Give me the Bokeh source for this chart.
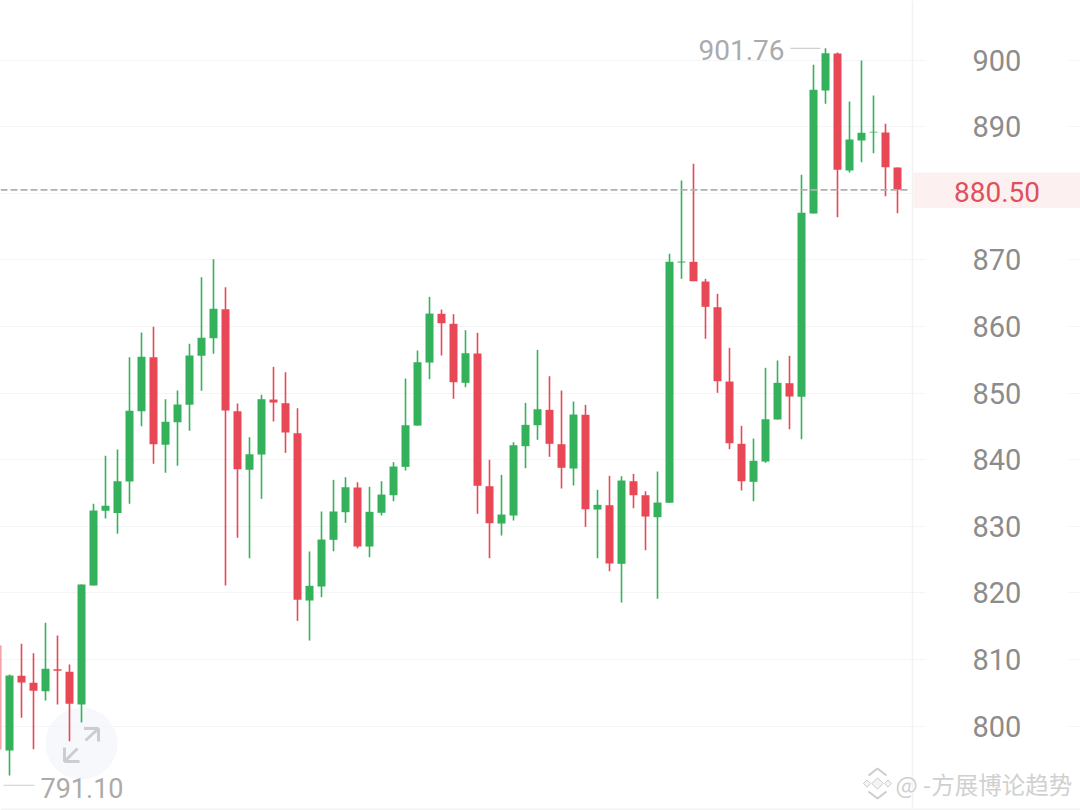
from bokeh.plotting import figure
from bokeh.models import (ColumnDataSource, Range1d, LinearAxis, FixedTicker, Grid,
                          BoxAnnotation, Label)
from bokeh.embed import file_html
from bokeh.resources import INLINE
from bokeh.core.properties import value
import math

# ---------- data (price values) ----------
opens = [812.08,796.32,807.53,806.48,805.22,808.52,808.13,803.23,821.09,832.31,832.0,836.71,847.26,855.37,842.22,845.61,848.22,855.58,858.22,862.58,847.26,838.46,840.76,849.02,848.47,843.96,818.84,820.94,827.95,832.1,835.81,826.95,832.01,834.65,838.91,845.11,854.57,861.89,860.39,851.53,855.93,836.0,830.4,831.6,842.01,845.16,847.47,842.31,838.66,846.72,832.5,833.15,824.35,836.75,834.65,831.35,833.51,869.59,869.7,866.74,862.88,851.72,842.37,836.66,839.71,846.02,851.47,849.43,876.95,895.42,900.97,883.4,887.91,889.11,889.11,883.86]
closes = [812.08,807.58,806.53,805.28,808.58,808.28,803.33,821.24,832.35,833.06,836.75,847.32,855.43,842.31,845.67,848.27,855.63,858.28,862.64,847.37,838.55,840.81,849.07,848.57,844.07,818.95,821.05,828.0,832.21,835.85,826.95,832.16,834.75,838.96,845.16,854.62,861.93,860.48,851.62,855.97,836.06,830.45,831.75,842.16,845.22,847.56,842.37,838.77,846.77,832.55,833.21,824.4,836.86,834.65,831.45,833.55,869.7,869.74,866.78,862.94,851.77,842.46,836.75,839.82,846.06,851.53,849.47,877.05,895.52,901.02,883.51,888.06,889.07,889.22,883.9,880.5]
highs = [812.08,807.73,812.34,810.93,815.49,813.58,809.23,821.24,833.36,840.57,841.51,855.37,859.08,859.94,849.07,850.37,857.38,867.38,870.09,865.88,848.42,843.36,849.73,853.93,853.12,847.71,826.2,832.21,836.96,837.35,836.6,835.91,836.75,839.61,852.17,856.38,864.44,862.53,861.83,859.43,859.04,839.97,837.71,842.61,848.52,856.48,852.52,850.37,848.72,848.22,835.46,837.56,837.5,837.86,835.25,838.21,870.9,881.9,884.41,867.14,864.89,856.78,845.07,843.16,853.78,854.88,855.58,882.76,899.28,901.76,901.12,893.77,899.92,894.67,890.42,883.86]
lows = [796.47,792.56,801.23,796.51,803.82,803.23,797.71,800.52,821.09,831.15,828.85,833.36,845.01,839.37,838.01,839.07,844.32,850.33,855.88,821.09,828.25,825.19,834.11,845.72,841.02,815.79,812.83,819.34,826.24,830.51,826.69,825.34,831.6,833.75,838.36,845.11,852.07,855.63,849.13,850.87,831.86,825.19,828.6,830.85,838.71,842.97,840.42,835.66,836.11,829.9,825.19,823.24,818.54,832.7,826.39,819.1,833.51,867.14,866.78,858.14,850.03,841.56,835.36,833.75,839.52,846.02,844.56,843.06,876.95,893.42,876.39,883.1,884.65,886.0,879.55,877.0]
ticks = [800, 810, 820, 830, 840, 850, 860, 870, 880, 890, 900]
last_price = 880.50
max_price = 901.76
min_price = 791.10
# slot of each candle; the first one is cut by the left edge
slots = [-0.75] + list(range(len(opens) - 1))

UP, DOWN = "#34b25b", "#e84855"
GRID, TXT = "#f3f5f7", "#8c8c8c"

# pixel <-> data helpers for layout pieces only (page is 1080x810)
XS, YS = 12.0, 6.66
x0, x1 = -9 / XS, (1080 - 9) / XS
ytop = 900 + 59.5 / YS
ybot = ytop - 810 / YS
X = lambda px: (px - 9) / XS
Y = lambda py: ytop - py / YS

p = figure(width=1080, height=810, output_backend="svg", toolbar_location=None,
           x_range=Range1d(x0, x1), y_range=Range1d(ybot, ytop),
           x_axis_location=None, y_axis_location=None,
           min_border=0, outline_line_color=None, background_fill_color="white")
p.xgrid.visible = False
p.ygrid.visible = False

p.add_layout(Grid(dimension=1, ticker=FixedTicker(ticks=ticks),
                  grid_line_color=GRID, grid_line_width=1.2))
# blank lane behind the price labels: only short stubs of the grid stay visible
p.add_layout(BoxAnnotation(left=X(925), right=X(1068), fill_color="white", fill_alpha=1,
                           line_color=None, level="underlay"))

axis = LinearAxis(ticker=FixedTicker(ticks=ticks), fixed_location=X(912),
                  axis_line_color="#f2f2f2", axis_line_width=1.5,
                  major_tick_line_color=None, minor_tick_line_color=None,
                  major_tick_in=0, major_tick_out=0, major_label_standoff=60,
                  major_label_text_font="Roboto", major_label_text_font_size="29px",
                  major_label_text_color=TXT)
p.add_layout(axis, "right")

# expand button behind the candles
p.scatter([X(81)], [Y(743)], size=72, marker="circle", fill_color="#f7f8fc",
          line_color=None, level="underlay")
p.multi_line([[X(85), X(98), X(98)], [X(83.5), X(98)], [X(77), X(64), X(64)], [X(79), X(64)]],
             [[Y(740), Y(728), Y(741)], [Y(728), Y(728)], [Y(748), Y(761), Y(747)], [Y(761), Y(761)]],
             line_color="#cbcdd0", line_width=3)

src = ColumnDataSource(dict(
    x=slots, open=opens, close=closes, high=highs, low=lows,
    top=[max(a, b) for a, b in zip(opens, closes)],
    bottom=[min(a, b) for a, b in zip(opens, closes)],
    color=[UP if c > o else DOWN for o, c in zip(opens, closes)],
))
p.segment(x0="x", x1="x", y0="low", y1="high", source=src, line_color="color", line_width=1.6)
p.vbar(x="x", top="top", bottom="bottom", width=8 / XS, source=src,
       fill_color="color", line_color=None)

# last price line
p.segment([X(0)], [last_price], [X(909)], [last_price], line_color="#b0b0b0",
          line_width=1.8, line_dash="7 3")

# price tag (hides the tick label underneath)
p.add_layout(BoxAnnotation(left=X(913), right=X(1080), top=Y(172), bottom=Y(207.5),
                           fill_color="#fdf0f1", fill_alpha=1, line_color=None))
p.add_layout(Label(x=X(996.5), y=Y(191.5), text=f"{last_price:.2f}", text_font="Roboto",
                   text_font_size="28px", text_color="#e0505b", text_align="center",
                   text_baseline="middle"))

# high / low markers
p.segment([X(790), X(3)], [max_price, min_price], [X(820), X(34)], [max_price, min_price],
          line_color="#cfcfcf", line_width=1.2)
p.add_layout(Label(x=X(784), y=Y(49.5), text=f"{max_price:.2f}", text_font="Roboto",
                   text_font_size="28px", text_color="#ababab", text_align="right",
                   text_baseline="middle"))
p.add_layout(Label(x=X(40), y=Y(787), text=f"{min_price:.2f}", text_font="Roboto",
                   text_font_size="27px", text_color="#ababab", text_align="left",
                   text_baseline="middle"))

# bottom strip
p.add_layout(BoxAnnotation(left=X(0), right=X(1080), top=Y(808), bottom=Y(810),
                           fill_color="#f4f4f4", fill_alpha=1, line_color=None))

# watermark
p.scatter([X(877), X(866.5), X(887.5)], [Y(783), Y(783), Y(783)], size=[8, 5, 5],
          marker="square", angle=math.pi / 4, fill_color="#f4f4f4",
          line_color="#cdcdcd", line_width=1)
p.multi_line([[X(868), X(877), X(886)], [X(868), X(877), X(886)]],
             [[Y(775), Y(768), Y(775)], [Y(791), Y(798), Y(791)]],
             line_color="#cdcdcd", line_width=2)
p.add_layout(Label(x=X(895), y=Y(783), text="@ -方展博论趋势",
                   text_font="Noto Sans CJK SC", text_font_size="23.5px",
                   text_color="#d0d0d0", text_align="left", text_baseline="middle"))

open("out.html", "w").write(file_html(p, INLINE))
